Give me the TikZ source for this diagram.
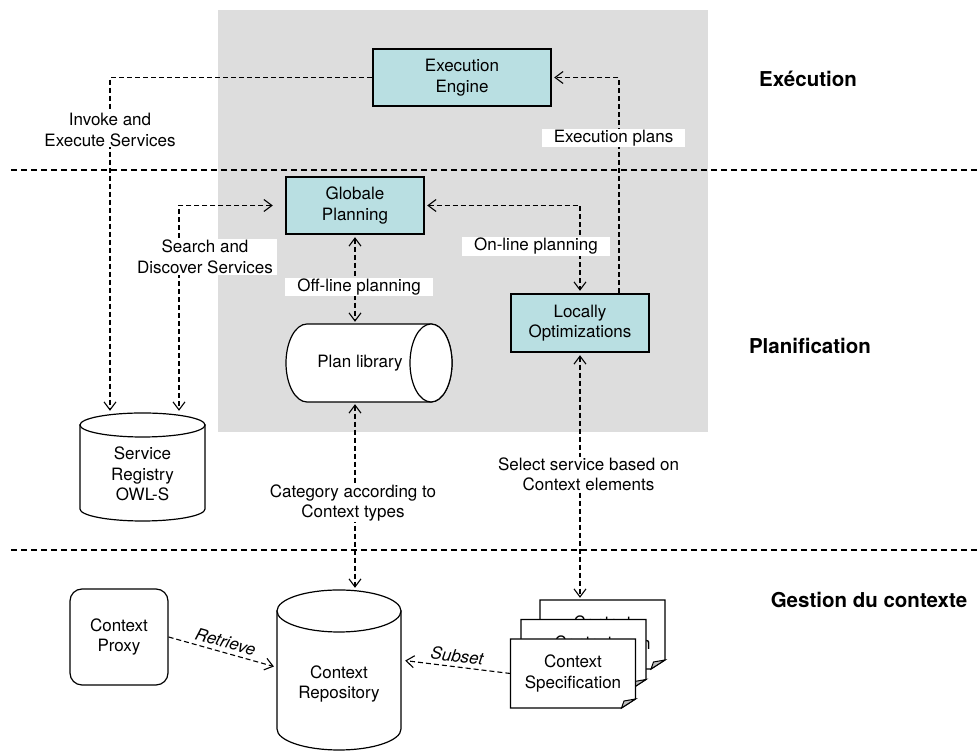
\documentclass[tikz,border=0pt]{standalone}
\usepackage{fontspec}
\setmainfont{TeX Gyre Heros}
\usetikzlibrary{arrows.meta}

\definecolor{procfill}{RGB}{185,223,226}
\definecolor{zonegray}{RGB}{221,221,221}
\definecolor{foldgray}{RGB}{190,190,190}

\tikzset{
  txt/.style={font=\fontsize{17}{20.5}\selectfont, align=center, inner sep=1pt},
  proc/.style={draw, line width=2.4pt, fill=procfill},
  store/.style={draw, line width=1.2pt, fill=white},
  lbl/.style={fill=white, inner xsep=12pt, inner ysep=1pt},
  zone/.style={font=\fontsize{20.5}{24}\selectfont\bfseries},
  sep/.style={line width=1.1pt, dash pattern=on 6pt off 4pt},
  link/.style={line width=1.1pt, dash pattern=on 5pt off 3pt},
  oneway/.style={link, ->, shorten >=2pt},
  twoway/.style={link, <->, shorten >=2pt, shorten <=2pt},
  slant/.style={font=\fontsize{17}{20.5}\selectfont\itshape},
}

% one sheet of the context specification stack
\newcommand{\specpage}[3]{%
  \draw[store] (#2-62.5,#3+34.5) -- (#2+62.5,#3+34.5) -- (#2+62.5,#3-25.5)
    -- (#2+48.5,#3-34.5) -- (#2-62.5,#3-34.5) -- cycle;
  \draw[fill=foldgray, line width=1pt] (#2+48.5,#3-34.5) -- (#2+62.5,#3-25.5)
    -- (#2+51,#3-27.5) -- cycle;
  \node[minimum width=125, minimum height=69] (#1) at (#2,#3) {Context\\Specification};
}

\begin{document}
\begin{tikzpicture}[x=1pt, y=1pt, every node/.style={txt},
    >={Straight Barb[length=8pt, width=12pt]}]
\useasboundingbox (0,0) rectangle (978,751);

% planning zone
\fill[zonegray] (218,319) rectangle (708,741);

% layer separators
\draw[sep] (11,581) -- (978,581);
\draw[sep] (11,201) -- (978,201);

% layer names
\node[zone] (lexec) at (808,672) {Exécution};
\node[zone] (lplan) at (810,405) {Planification};
\node[zone] (lctx)  at (869,151) {Gestion du contexte};

% processes
\node[proc, minimum width=178, minimum height=57] (engine)   at (462,673.5) {Execution\\Engine};
\node[proc, minimum width=138, minimum height=57] (globplan) at (355,545.5) {Globale\\Planning};
\node[proc, minimum width=138, minimum height=58] (locopt)   at (580,428)   {Locally\\Optimizations};

% plan library
\draw[store] (307,427) arc[start angle=90, end angle=270, x radius=21, y radius=39]
  -- (431,349) arc[start angle=-90, end angle=90, x radius=21, y radius=39] -- cycle;
\draw[store] (431,388) ellipse[x radius=21, y radius=39];
\node[minimum width=166, minimum height=78] (planlib) at (360,388) {Plan library};

% service registry
\draw[store] (80,326) -- (80,242) arc[start angle=180, end angle=360, x radius=62.5, y radius=12]
  -- (205,326) -- cycle;
\draw[store] (142.5,326) ellipse[x radius=62.5, y radius=12];
\node[minimum width=125, minimum height=122] (registry) at (142.5,277) {Service\\Registry\\OWL-S};

% context repository
\draw[store] (277,140) -- (277,22) arc[start angle=180, end angle=360, x radius=62, y radius=21]
  -- (401,140) -- cycle;
\draw[store] (339,140) ellipse[x radius=62, y radius=21];
\node[minimum width=124, minimum height=188] (repo) at (339,67) {Context\\Repository};

% context proxy
\node[draw, line width=1.2pt, rounded corners=12pt, minimum width=98, minimum height=96]
  (proxy) at (119,114) {Context\\Proxy};

% context specifications
\specpage{backpage}{602.5}{116.5}
\specpage{midpage}{583.5}{97}
\specpage{frontpage}{573}{77.5}

% connectors
\draw[oneway] (engine.west) -| ([xshift=-32.5]registry.north)
  node[lbl, pos=0.578, inner xsep=2pt] {Invoke and\\Execute Services};
\draw[twoway, shorten <=12pt] (globplan.west) -| ([xshift=36.5]registry.north)
  node[lbl, pos=0.624, xshift=26, inner xsep=4pt] {Search and\\Discover Services};
\draw[twoway] (globplan.south) -- (globplan.south |- planlib.north)
  node[lbl, pos=0.583, xshift=4] {Off-line planning};
\draw[twoway] (globplan.east) -| (locopt.north)
  node[lbl, pos=0.734, xshift=-44] {On-line planning};
\draw[oneway] ([xshift=39]locopt.north) |- (engine.east)
  node[lbl, pos=0.359, xshift=-5.5] {Execution plans};
\draw[twoway] (globplan.south |- planlib.south) -- (globplan.south |- repo.north)
  node[lbl, pos=0.537, xshift=-2, inner xsep=2pt] {Category according to\\Context types};
\draw[twoway] (locopt.south) -- (locopt.south |- backpage.north)
  node[lbl, pos=0.492, xshift=8.5, inner xsep=2pt] {Select service based on\\Context elements};
\draw[oneway, shorten >=3pt] (proxy.east) -- (repo.165)
  node[midway, above=3pt, sloped, slant] {Retrieve};
\draw[oneway, shorten >=4pt] (frontpage.west) -- (repo.21)
  node[midway, above=3pt, sloped, slant] {Subset};

\end{tikzpicture}
\end{document}
